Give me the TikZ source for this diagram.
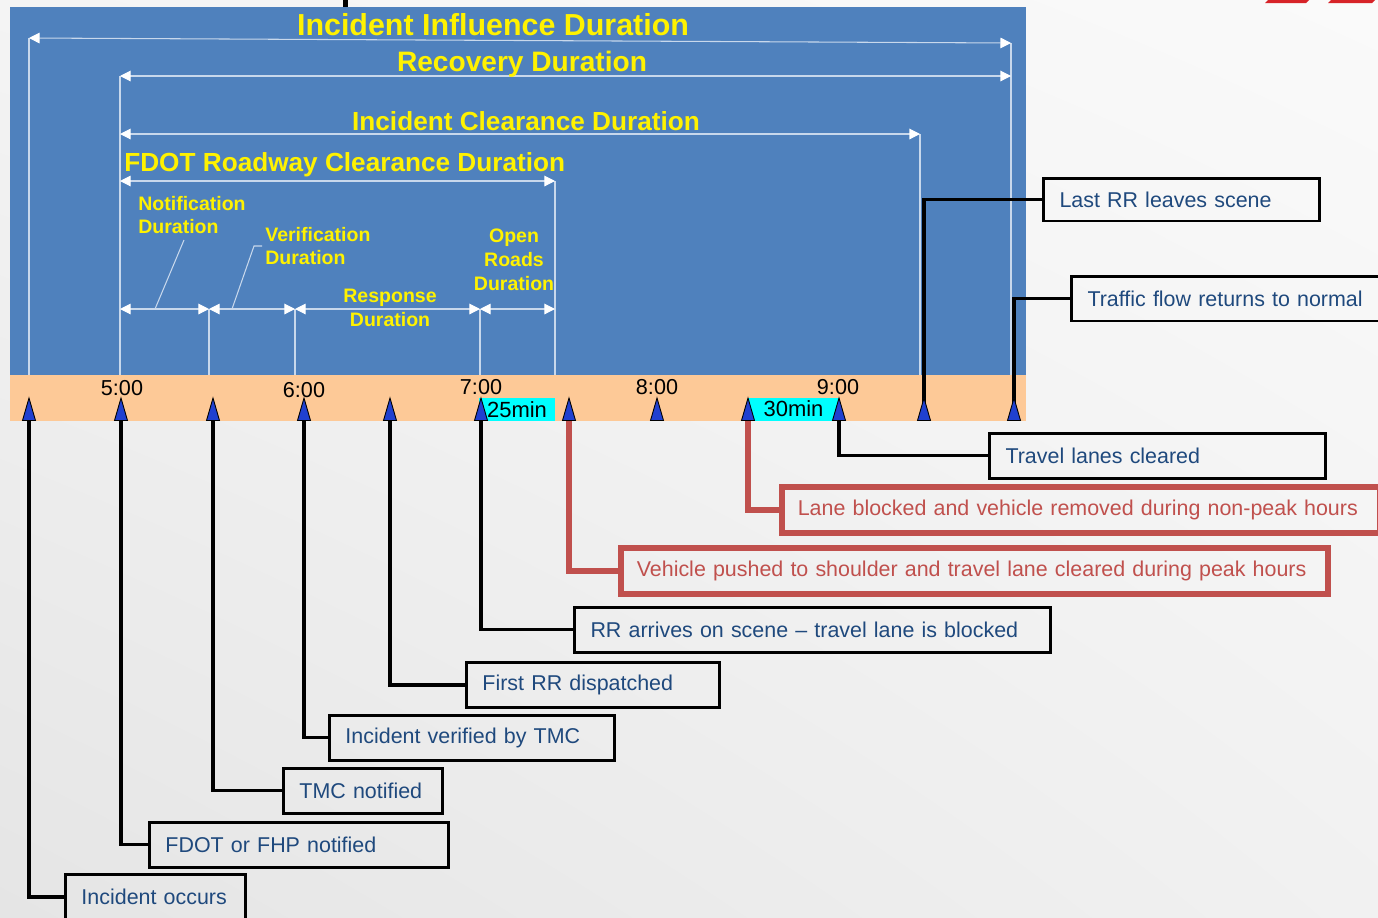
\documentclass[tikz,border=0pt]{standalone}
\usepackage{fontspec}
\setmainfont{Liberation Sans}
\usetikzlibrary{arrows.meta,shadings}
\definecolor{panel}{RGB}{79,129,189}
\definecolor{band}{RGB}{253,201,151}
\definecolor{pale}{RGB}{200,216,236}
\definecolor{tickblue}{RGB}{32,64,208}
\definecolor{txtblue}{RGB}{31,73,125}
\definecolor{alert}{RGB}{192,80,77}
\definecolor{hilite}{RGB}{0,255,255}
\definecolor{logored}{RGB}{215,35,40}
\definecolor{bgUL}{RGB}{244,244,244}
\definecolor{bgUR}{RGB}{250,250,250}
\definecolor{bgLL}{RGB}{229,229,229}
\definecolor{bgLR}{RGB}{241,241,241}
\tikzset{
  guide/.style={draw=pale, line width=0.6pt},
  span/.style={guide, {Triangle[length=6pt,width=6pt,color=white]}-{Triangle[length=6pt,width=6pt,color=white]}},
  title/.style={text=yellow, inner sep=0pt, font=\bfseries\fontsize{#1}{20}\selectfont},
  sub/.style={text=yellow, inner sep=0pt, font=\bfseries\fontsize{11.1}{13.6}\selectfont},
  clock/.style={inner sep=0pt, font=\fontsize{12.3}{14}\selectfont},
  mins/.style={fill=hilite, inner sep=0pt, minimum height=0.46cm, font=\fontsize{12.5}{14}\selectfont},
  callout/.style={draw=black, line width=1.7pt, anchor=west, align=left, inner xsep=0.32cm,
                  inner ysep=0pt, text=txtblue, font=\fontsize{12.2}{14}\selectfont, minimum height=0.9cm},
  redcallout/.style={callout, draw=alert, text=alert, line width=3.2pt, minimum height=0.92cm},
  link/.style={draw=black, line width=1.8pt},
  redlink/.style={draw=alert, line width=3.4pt},
  tickmark/.style={fill=tickblue, draw=black, line width=0.5pt},
}
\begin{document}
\begin{tikzpicture}[x=0.02cm, y=-0.02cm]
  \useasboundingbox (0,0) rectangle (1378,917);
  \shade[upper left=bgUL, upper right=bgUR, lower left=bgLL, lower right=bgLR] (0,0) rectangle (1378,917);
  \fill (343,0) rectangle (348,8);
  \fill[logored] (1268,0) -- (1309,0) -- (1306,3) -- (1265,3) -- cycle;
  \fill[logored] (1331,0) -- (1375,0) -- (1372,3) -- (1328,3) -- cycle;

  \fill[panel] (10,7) rectangle (1026,375);
  \fill[band] (10,375) rectangle (1026,421);

  % guide lines and spans
  \draw[guide] (29,38) -- (29,375);
  \draw[guide] (120,76) -- (120,375);
  \foreach \x in {209,295,480} \draw[guide] (\x,309) -- (\x,375);
  \draw[guide] (555,181) -- (555,375);
  \draw[guide] (920,134) -- (920,375);
  \draw[guide] (1011,43) -- (1011,375);
  \draw[span] (29,38) -- (1011,43);
  \draw[span] (120,76) -- (1011,76);
  \draw[span] (120,134) -- (920,134);
  \draw[span] (120,181) -- (555,181);
  \draw[span] (120,309) -- (209,309);
  \draw[span] (209,309) -- (295,309);
  \draw[span] (295,309) -- (480,309);
  \draw[span] (480,309) -- (555,309);
  \draw[guide] (155,309) -- (184,240);
  \draw[guide] (232,309) -- (254,246) -- (262,246);

  \node[title=17.3] (influence) at (493,24.5) {Incident Influence Duration};
  \node[title=16] (recovery) at (522,64.5) {Recovery Duration};
  \node[title=14.9] (clearance) at (526,121) {Incident Clearance Duration};
  \node[title=14.9, anchor=west] (roadway) at (124,164.5) {FDOT Roadway Clearance Duration};
  \node[sub, anchor=west, align=left] (notif) at (138,215) {Notification\\Duration};
  \node[sub, anchor=west, align=left] (verif) at (265,246) {Verification\\Duration};
  \node[sub, align=center] (resp) at (390,308) {Response\\Duration};
  \node[sub, align=center] (open) at (514,260) {Open\\Roads\\Duration};

  \foreach \t/\x/\y in {5:00/122/388, 6:00/304/390, 7:00/481/387, 8:00/657/387, 9:00/838/387}
    \node[clock] (t\x) at (\x,\y) {\t};
  \node[mins, minimum width=1.52cm] (m25) at (517,409.5) {25min};
  \node[mins, minimum width=1.82cm] (m30) at (793.5,409) {30min};

  \foreach \n/\x in {1/29,2/121,3/213,4/304,5/390,6/481,7/569,8/657,9/748,10/839,11/924,12/1014}
    \coordinate (tk\n) at (\x,410);

  % callouts
  \node[callout, text width=4.88cm, minimum height=0.86cm] (lastrr) at (1042,199.5) {Last RR leaves scene};
  \node[callout, text width=5.96cm] (normal) at (1070,298.5) {Traffic flow returns to normal};
  \node[callout, text width=6.08cm] (lanes) at (988,455.5) {Travel lanes cleared};
  \node[redcallout, text width=11.32cm] (nonpeak) at (779,510) {Lane blocked and vehicle removed during non-peak hours};
  \node[redcallout, text width=13.5cm] (peak) at (618,571) {Vehicle pushed to shoulder and travel lane cleared during peak hours};
  \node[callout, text width=8.88cm] (arrives) at (573,629.5) {RR arrives on scene -- travel lane is blocked};
  \node[callout, text width=4.42cm] (dispatch) at (465,685) {First RR dispatched};
  \node[callout, text width=5.06cm] (verified) at (328,737.5) {Incident verified by TMC};
  \node[callout, text width=2.54cm] (tmc) at (282,790.5) {TMC notified};
  \node[callout, text width=5.34cm] (fhp) at (148,844.5) {FDOT or FHP notified};
  \node[callout, text width=2.96cm] (occurs) at (64,897) {Incident occurs};

  \draw[link] (tk1) |- (occurs.west);
  \draw[link] (tk2) |- (fhp.west);
  \draw[link] (tk3) |- (tmc.west);
  \draw[link] (tk4) |- (verified.west);
  \draw[link] (tk5) |- (dispatch.west);
  \draw[link] (tk6) |- (arrives.west);
  \draw[redlink] (tk7) |- (peak.west);
  \draw[redlink] (tk9) |- (nonpeak.west);
  \draw[link] (tk10) |- (lanes.west);
  \draw[link] (tk11) |- (lastrr.west);
  \draw[link] (tk12) |- (normal.west);

  \foreach \x in {29,121,213,304,390,481,569,657,748,839,924,1014}
    \filldraw[tickmark] (\x-6.5,420.5) -- (\x,398) -- (\x+6.5,420.5) -- cycle;
\end{tikzpicture}
\end{document}
